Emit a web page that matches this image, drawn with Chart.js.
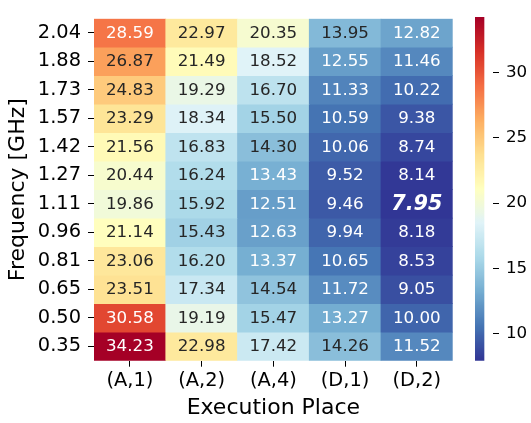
<!DOCTYPE html>
<html>
<head>
<meta charset="utf-8">
<script src="https://cdn.jsdelivr.net/npm/chart.js@4.4.1/dist/chart.umd.min.js"></script>
<style>
  html, body { margin: 0; padding: 0; background: #fff; }
  #wrap { position: relative; width: 531px; height: 423px; overflow: hidden; }
  #main { position: absolute; left: 0; top: 0; }
  #cbar { position: absolute; left: 465px; top: 0; }
</style>
</head>
<body>
<div id="wrap">
  <canvas id="main" width="465" height="423"></canvas>
  <canvas id="cbar" width="66" height="423"></canvas>
</div>
<script>
// ---- data (rows listed top to bottom) ----
const places = ['(A,1)', '(A,2)', '(A,4)', '(D,1)', '(D,2)'];
const frequencies = ['2.04', '1.88', '1.73', '1.57', '1.42', '1.27', '1.11', '0.96', '0.81', '0.65', '0.50', '0.35'];
const colA1 = [28.59, 26.87, 24.83, 23.29, 21.56, 20.44, 19.86, 21.14, 23.06, 23.51, 30.58, 34.23];
const colA2 = [22.97, 21.49, 19.29, 18.34, 16.83, 16.24, 15.92, 15.43, 16.20, 17.34, 19.19, 22.98];
const colA4 = [20.35, 18.52, 16.70, 15.50, 14.30, 13.43, 12.51, 12.63, 13.37, 14.54, 15.47, 17.42];
const colD1 = [13.95, 12.55, 11.33, 10.59, 10.06, 9.52, 9.46, 9.94, 10.65, 11.72, 13.27, 14.26];
const colD2 = [12.82, 11.46, 10.22, 9.38, 8.74, 8.14, 7.95, 8.18, 8.53, 9.05, 10.00, 11.52];
const colorbarTicks = [10, 15, 20, 25, 30];

const columns = [colA1, colA2, colA4, colD1, colD2];
const allVals = columns.flat();
const vmin = Math.min(...allVals);
const vmax = Math.max(...allVals);

// RdYlBu reversed (low -> high)
const cmapHex = ['#313695', '#4575b4', '#74add1', '#abd9e9', '#e0f3f8', '#ffffbf',
                 '#fee090', '#fdae61', '#f46d43', '#d73027', '#a50026'];
const cmapRGB = cmapHex.map(h => [1, 3, 5].map(i => parseInt(h.substr(i, 2), 16) / 255));

function cmap(v) {
  let n = (v - vmin) / (vmax - vmin);
  let idx = Math.floor(n * 256);
  idx = Math.max(0, Math.min(255, idx));
  const t = idx / 255 * (cmapRGB.length - 1);
  const k = Math.min(cmapRGB.length - 2, Math.floor(t));
  const f = t - k;
  const a = cmapRGB[k], b = cmapRGB[k + 1];
  return a.map((c, i) => c + (b[i] - c) * f);
}
function rgbStr(c) {
  return 'rgb(' + c.map(x => Math.round(x * 255)).join(',') + ')';
}
function luminance(c) {
  const l = c.map(x => x <= 0.03928 ? x / 12.92 : Math.pow((x + 0.055) / 1.055, 2.4));
  return 0.2126 * l[0] + 0.7152 * l[1] + 0.0722 * l[2];
}

const FONT = "'DejaVu Sans', sans-serif";
const nRows = frequencies.length;

const datasets = frequencies.map((f, r) => ({
  label: f,
  data: columns.map(() => [r, r + 1]),
  values: columns.map(col => col[r]),
  backgroundColor: columns.map(col => rgbStr(cmap(col[r]))),
  borderWidth: 0,
  barPercentage: 1.0,
  categoryPercentage: 1.0,
  grouped: false
}));

const annotate = {
  id: 'annotate',
  afterDatasetsDraw(chart) {
    const ctx = chart.ctx;
    const xs = chart.scales.x, ys = chart.scales.y;
    ctx.save();
    ctx.textAlign = 'center';
    ctx.textBaseline = 'middle';
    chart.data.datasets.forEach((ds, r) => {
      ds.values.forEach((v, j) => {
        const c = cmap(v);
        ctx.fillStyle = luminance(c) > 0.408 ? '#262626' : '#ffffff';
        if (v === vmin) {
          ctx.font = "italic bold 20.8px " + FONT;
        } else {
          ctx.font = "16.7px " + FONT;
        }
        ctx.fillText(v.toFixed(2), xs.getPixelForValue(j), ys.getPixelForValue(r + 0.5) + 0.5);
      });
    });
    ctx.restore();
  }
};

new Chart(document.getElementById('main'), {
  type: 'bar',
  data: { labels: places, datasets },
  options: {
    responsive: false,
    animation: false,
    events: [],
    layout: { padding: { top: 4, right: 12.3, left: 0, bottom: 0 } },
    plugins: { legend: { display: false }, tooltip: { enabled: false } },
    scales: {
      x: {
        type: 'category',
        offset: true,
        border: { display: false },
        grid: { offset: false, drawOnChartArea: false, drawTicks: true, tickLength: 6, tickColor: '#000', tickWidth: 1 },
        ticks: { color: '#000', font: { family: FONT, size: 19.4 }, padding: 3, maxRotation: 0 },
        title: { display: true, text: 'Execution Place', color: '#000', font: { family: FONT, size: 22 }, padding: { top: 0, bottom: 2 } },
        afterFit(scale) { scale.height = 62.3; }
      },
      y: {
        type: 'linear',
        min: 0,
        max: nRows,
        reverse: true,
        border: { display: false },
        grid: { drawOnChartArea: false, drawTicks: true, tickLength: 6, tickColor: '#000', tickWidth: 1 },
        ticks: {
          color: '#000',
          font: { family: FONT, size: 19.4 },
          padding: 7,
          callback: (v) => frequencies[Math.round(v - 0.5)]
        },
        afterBuildTicks(scale) {
          scale.ticks = frequencies.map((f, i) => ({ value: i + 0.5 }));
        },
        title: { display: true, text: 'Frequency [GHz]', color: '#000', font: { family: FONT, size: 22 }, padding: { top: 5, bottom: 0 } },
        afterFit(scale) { scale.width = 94; }
      }
    }
  },
  plugins: [annotate]
});

// ---- colorbar ----
new Chart(document.getElementById('cbar'), {
  type: 'bar',
  data: {
    labels: ['cb'],
    datasets: [{
      data: [[vmin, vmax]],
      borderWidth: 0,
      barPercentage: 1.0,
      categoryPercentage: 1.0,
      backgroundColor(ctx) {
        const area = ctx.chart.chartArea;
        if (!area) return '#888';
        const g = ctx.chart.ctx.createLinearGradient(0, area.bottom, 0, area.top);
        for (let i = 0; i <= 100; i++) {
          const v = vmin + (vmax - vmin) * i / 100;
          g.addColorStop(i / 100, rgbStr(cmap(v)));
        }
        return g;
      }
    }]
  },
  options: {
    responsive: false,
    animation: false,
    events: [],
    layout: { padding: { top: 4, bottom: 62.3, left: 10, right: 0 } },
    plugins: { legend: { display: false }, tooltip: { enabled: false } },
    scales: {
      x: { display: false, offset: false },
      y: {
        type: 'linear',
        position: 'right',
        min: vmin,
        max: vmax,
        border: { display: false },
        grid: { drawOnChartArea: false, drawTicks: true, tickLength: 6, tickColor: '#000', tickWidth: 1 },
        ticks: { color: '#000', font: { family: FONT, size: 16.7 }, padding: 7, callback: v => String(v) },
        afterBuildTicks(scale) { scale.ticks = colorbarTicks.map(v => ({ value: v })); },
        afterFit(scale) { scale.width = 38; }
      }
    }
  }
});
</script>
</body>
</html>
